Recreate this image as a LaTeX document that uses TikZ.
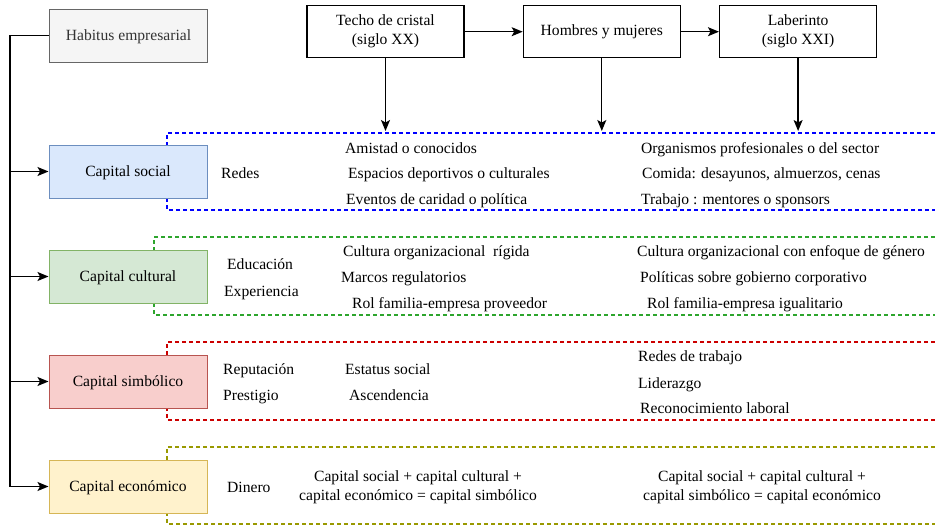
\documentclass[tikz,border=0pt]{standalone}
\usepackage{fontspec}
\setmainfont{Liberation Serif}
\usetikzlibrary{arrows.meta,positioning,backgrounds}
\definecolor{habfill}{HTML}{F5F5F5}
\definecolor{habdraw}{HTML}{666666}
\definecolor{habtext}{HTML}{333333}
\definecolor{socfill}{HTML}{DAE8FC}
\definecolor{socdraw}{HTML}{6C8EBF}
\definecolor{culfill}{HTML}{D5E8D4}
\definecolor{culdraw}{HTML}{82B366}
\definecolor{simfill}{HTML}{F8CECC}
\definecolor{simdraw}{HTML}{B85450}
\definecolor{ecofill}{HTML}{FFF2CC}
\definecolor{ecodraw}{HTML}{D6B656}
\definecolor{fblue}{HTML}{0000FF}
\definecolor{fgreen}{HTML}{2DA52D}
\definecolor{fred}{HTML}{CC0000}
\definecolor{folive}{HTML}{999900}

\begin{document}
\begin{tikzpicture}[
 x=1pt, y=-1pt, >={Stealth[length=11pt,width=9pt,inset=2.5pt]},
 font=\fontsize{15.6}{19}\selectfont,
 topbox/.style={draw, fill=white, line width=1.3pt, minimum width=157pt, minimum height=52pt, align=center, inner sep=2pt},
 capbox/.style={draw, line width=1pt, minimum width=158pt, minimum height=53pt, inner sep=2pt, text height=12pt, text depth=2pt},
 txt/.style={anchor=west, inner sep=0pt, text height=12pt, text depth=2pt},
 frame/.style={dash pattern=on 4pt off 3pt, line width=1.2pt},
 every edge/.style={draw, ->, line width=1.3pt}]
\useasboundingbox (0,0) rectangle (935,525);

% eras
\node[topbox] (techo) at (385.5,31.7) {Techo de cristal\\(siglo XX)};
\node[topbox, right=58pt of techo] (hom) {Hombres y mujeres};
\node[topbox, right=38pt of hom] (lab) {Laberinto\\(siglo XXI)};
\coordinate (lim) at (0,131);
\draw (techo) edge (hom) (hom) edge (lab);
\draw (techo) edge (techo |- lim) (hom) edge (hom |- lim) (lab) edge (lab |- lim);

% capitals
\node[capbox, fill=habfill, draw=habdraw, text=habtext] (hab) at (128.5,35.5) {Habitus empresarial};
\node[capbox, fill=socfill, draw=socdraw] (soc) at (128,171.5) {Capital social};
\node[capbox, fill=culfill, draw=culdraw, below=51pt of soc] (cul) {Capital cultural};
\node[capbox, fill=simfill, draw=simdraw, below=51pt of cul] (sim) {Capital simbólico};
\node[capbox, fill=ecofill, draw=ecodraw, below=51pt of sim] (eco) {Capital económico};
\coordinate (trunk) at (10,0);
\draw[line width=1.3pt] (hab.west) -| (trunk |- eco.west);
\draw (trunk |- soc) edge (soc) (trunk |- cul) edge (cul) (trunk |- sim) edge (sim) (trunk |- eco) edge (eco);

\begin{scope}[on background layer]
\draw[frame, draw=fblue] (935,133) -| (167,210) -- (935,210);
\draw[frame, draw=fgreen] (935,237) -| (154,315) -- (935,315);
\draw[frame, draw=fred] (935,342) -| (167,420) -- (935,420);
\draw[frame, draw=folive] (935,447) -| (167,524) -- (935,524);
\end{scope}

% social
\node[txt] (redes) at (221,173) {Redes};
\node[txt] (amis) at (345,148) {Amistad o conocidos};
\node[txt] (esp) at (348,173) {Espacios deportivos o culturales};
\node[txt] (eve) at (346,199) {Eventos de caridad o política};
\node[txt] (org) at (641,148) {Organismos profesionales o del sector};
\node[txt] (com) at (642,173) {Comida: desayunos, almuerzos, cenas};
\node[txt] (trab) at (641,199) {Trabajo : mentores o sponsors};

% cultural
\node[txt] (edu) at (227,264) {Educación};
\node[txt] (exp) at (224,291) {Experiencia};
\node[txt] (cort) at (343,251) {Cultura organizacional\ \ rígida};
\node[txt] (marc) at (341,277) {Marcos regulatorios};
\node[txt] (rolp) at (352,303) {Rol familia-empresa proveedor};
\node[txt] (corg) at (637,251) {Cultura organizacional con enfoque de género};
\node[txt] (pol) at (640,277) {Políticas sobre gobierno corporativo};
\node[txt] (roli) at (647,303) {Rol familia-empresa igualitario};

% simbolico
\node[txt] (rep) at (223,369) {Reputación};
\node[txt] (pres) at (223,395) {Prestigio};
\node[txt] (est) at (345,369) {Estatus social};
\node[txt] (asc) at (349,395) {Ascendencia};
\node[txt] (rtrab) at (638,356) {Redes de trabajo};
\node[txt] (lid) at (638,383) {Liderazgo};
\node[txt] (rec) at (640,408) {Reconocimiento laboral};

% economico
\node[txt] (din) at (227,487) {Dinero};
\node[align=center, inner sep=0pt] (fsim) at (418,487) {Capital social + capital cultural +\\capital económico = capital simbólico};
\node[align=center, inner sep=0pt] (feco) at (762,487) {Capital social + capital cultural +\\capital simbólico = capital económico};
\end{tikzpicture}
\end{document}
